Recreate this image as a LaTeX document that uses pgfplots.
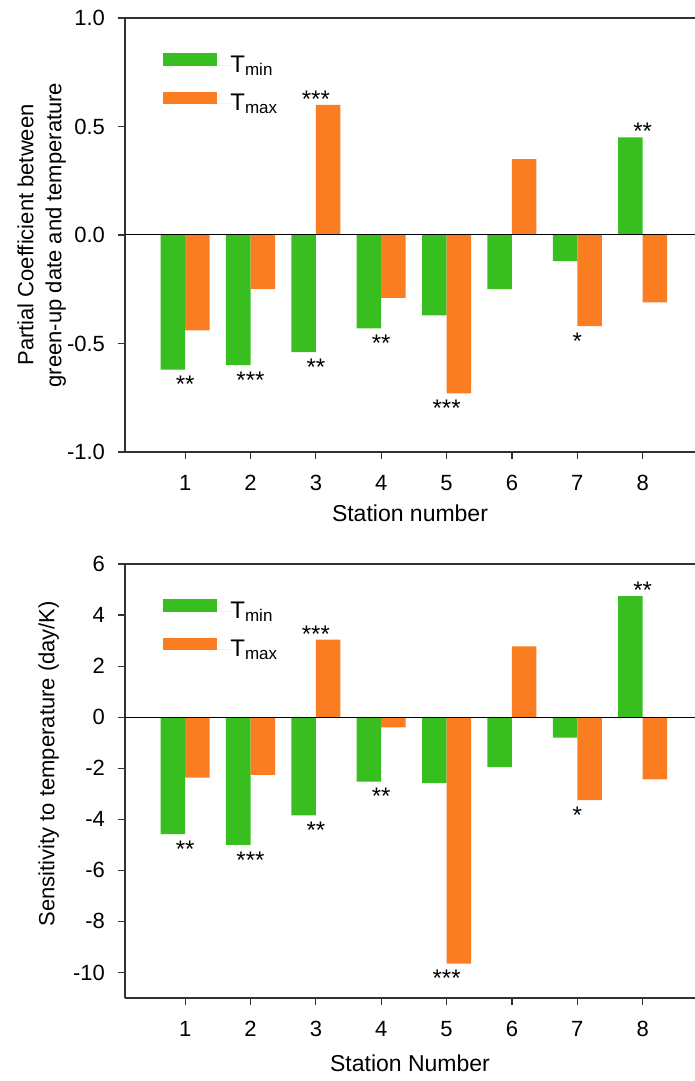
\documentclass[border=0pt]{standalone}
\usepackage{pgfplots}
\pgfplotsset{compat=1.18}
\usepackage{fontspec}
\setmainfont{Liberation Sans}

\definecolor{gmin}{RGB}{56,190,30}
\definecolor{omax}{RGB}{250,126,33}
\definecolor{axgray}{RGB}{50,50,50}

\pgfplotsset{
  panel/.style={
    scale only axis, width=285pt, height=217pt,
    xmin=0.08, xmax=8.8,
    axis x line*=box, axis y line*=left,
    xtick={1,...,8}, xtick pos=bottom, ytick pos=left,
    tick align=outside, major tick length=3.5pt,
    axis line style={line width=0.6pt, color=axgray},
    tick style={line width=0.6pt, color=axgray},
    tick label style={font=\fontsize{11}{13}\selectfont},
    /pgf/number format/assume math mode=true,
    xticklabel shift=4.5pt, yticklabel shift=3pt,
    clip=false,
    legend cell align=left,
    legend style={draw=none, fill=none, inner sep=0pt, row sep=8.3pt,
      at={(axis description cs:0.0667,0.92)}, anchor=north west,
      font=\fontsize{12}{14}\selectfont, nodes={inner sep=0pt}},
    legend image code/.code={
      \fill[##1] (0pt,-0.1pt) rectangle (27pt,6.1pt);
      \path (0pt,0pt) -- (33.5pt,0pt);},
  },
  bars/.style={ybar, bar width=0.375, draw=none,
    point meta=explicit symbolic,
    visualization depends on={rawy \as \rawy},
    nodes near coords={\pgfplotspointmeta},
    every node near coord/.append style={font=\fontsize{12}{12}\selectfont,
      inner sep=0pt, text height=10pt, text depth=0pt, yshift=-1.5pt},
    every node near coord/.append code={%
      \ifdim\rawy pt<0pt \pgfkeysalso{anchor=north}\else\pgfkeysalso{anchor=south}\fi}},
}

\newcommand{\tmin}{T\raisebox{-1.5pt}{\fontsize{8.5}{9}\selectfont min}}
\newcommand{\tmax}{T\raisebox{-1.5pt}{\fontsize{8.5}{9}\selectfont max}}

\begin{document}
\begin{tikzpicture}
% partial coefficients
\begin{axis}[panel, at={(0,273pt)}, anchor=south west,
    ymin=-1, ymax=1, ytick={-1,-0.5,0,0.5,1},
    yticklabel style={/pgf/number format/.cd, fixed, fixed zerofill, precision=1},
    xlabel={Station number},
    every axis x label/.style={at={(axis description cs:0.5,0)}, anchor=center, yshift=-30.5pt,
      font=\fontsize{11.5}{13}\selectfont},
    ylabel={Partial Coefficient between\\green-up date and temperature},
    every axis y label/.style={at={(axis description cs:-0.146,0.5)}, rotate=90, anchor=center,
      align=center, font=\fontsize{11}{14}\selectfont},
  ]
\addplot[bars, bar shift=-0.1875, fill=gmin] coordinates {
  (1,-0.62) [**] (2,-0.60) [***] (3,-0.54) [**] (4,-0.43) [**]
  (5,-0.37) [{}] (6,-0.25) [{}] (7,-0.12) [{}] (8,0.45) [**]
};
\addplot[bars, bar shift=0.1875, fill=omax] coordinates {
  (1,-0.44) [{}] (2,-0.25) [{}] (3,0.60) [***] (4,-0.29) [{}]
  (5,-0.73) [***] (6,0.35) [{}] (7,-0.42) [*] (8,-0.31) [{}]
};
\addplot[black, line width=0.5pt, forget plot] coordinates {(0.08,0) (8.8,0)};
\legend{\tmin,\tmax}
\end{axis}

% sensitivity
\begin{axis}[panel, at={(0,0)}, anchor=south west,
    ymin=-11, ymax=6, ytick={-10,-8,...,6},
    xlabel={Station Number},
    every axis x label/.style={at={(axis description cs:0.5,0)}, anchor=center, yshift=-32.5pt,
      font=\fontsize{11.5}{13}\selectfont},
    ylabel={Sensitivity to temperature (day/K)},
    every axis y label/.style={at={(axis description cs:-0.134,0.54)}, rotate=90, anchor=center,
      font=\fontsize{11}{13}\selectfont},
  ]
\addplot[bars, bar shift=-0.1875, fill=gmin] coordinates {
  (1,-4.58) [**] (2,-5.00) [***] (3,-3.85) [**] (4,-2.52) [**]
  (5,-2.58) [{}] (6,-1.96) [{}] (7,-0.80) [{}] (8,4.74) [**]
};
\addplot[bars, bar shift=0.1875, fill=omax] coordinates {
  (1,-2.37) [{}] (2,-2.26) [{}] (3,3.04) [***] (4,-0.40) [{}]
  (5,-9.65) [***] (6,2.77) [{}] (7,-3.25) [*] (8,-2.44) [{}]
};
\addplot[black, line width=0.5pt, forget plot] coordinates {(0.08,0) (8.8,0)};
\legend{\tmin,\tmax}
\end{axis}

\pgfresetboundingbox
\path (-62.5pt,-41.5pt) rectangle (285pt,499pt);
\end{tikzpicture}
\end{document}
